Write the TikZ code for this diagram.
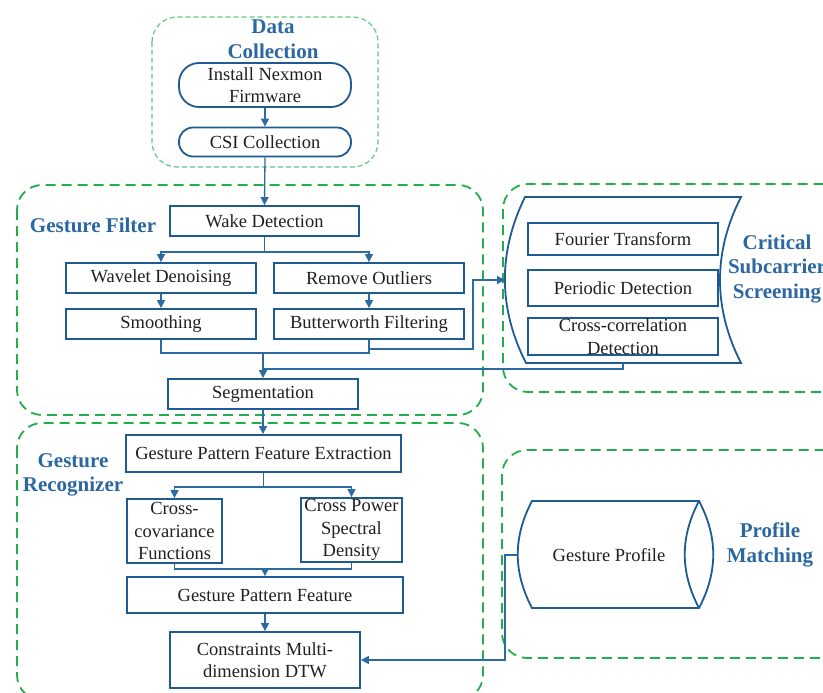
\documentclass[tikz,border=0pt]{standalone}
\usepackage{fontspec}
\setmainfont{Liberation Serif}
\usetikzlibrary{arrows.meta}
\definecolor{boxblue}{HTML}{1F5B93}
\definecolor{linkblue}{HTML}{2C6AA2}
\definecolor{titleblue}{HTML}{2B67A0}
\definecolor{grpgreen}{HTML}{22AE4C}
\definecolor{lightgreen}{HTML}{5CCB7E}
\definecolor{txt}{HTML}{231F20}
\tikzset{
  proc/.style={draw=boxblue, line width=1.8pt, fill=white, text=txt,
    font=\fontsize{18.5}{22.5}\selectfont, align=center, inner sep=0pt},
  grpbox/.style={draw=grpgreen, line width=1.8pt, dash pattern=on 10pt off 6pt,
    rounded corners=25pt},
  grpthin/.style={draw=lightgreen, line width=1.2pt, dash pattern=on 5pt off 3pt,
    rounded corners=25pt},
  grptitle/.style={text=titleblue, font=\fontsize{21}{24.5}\selectfont\bfseries,
    align=center, inner sep=0pt},
  link/.style={draw=linkblue, line width=1.3pt},
  conn/.style={link, -{Triangle[length=8pt,width=8pt]}},
  shapeline/.style={draw=boxblue, line width=1.8pt}
}
\begin{document}
\begin{tikzpicture}[x=1pt,y=-1pt]
\useasboundingbox (0,0) rectangle (823,693);
\clip (0,0) rectangle (823,693);

% group frames
\draw[grpthin] (152,17) rectangle (378,167);
\draw[grpbox] (17,185) rectangle (483,415);
\draw[grpbox] (17,423) rectangle (483,700);
\draw[grpbox] (503,184) rectangle (860,392);
\draw[grpbox] (502,450) rectangle (860,658);

% group titles
\node[grptitle] (tdata) at (273,39) {Data\\Collection};
\node[grptitle] (tfilter) at (93,225) {Gesture Filter};
\node[grptitle] (trecog) at (73,475) {Gesture\\Recognizer};
\node[grptitle] (tcrit) at (777,269) {Critical\\Subcarrier\\Screening};
\node[grptitle] (tprof) at (770,545) {Profile\\Matching};

% data collection
\node[proc, rounded corners=20pt, minimum width=172, minimum height=44] (nexmon) at (265,85) {Install Nexmon\\Firmware};
\node[proc, rounded corners=14pt, minimum width=172, minimum height=29] (csi) at (265,142) {CSI Collection};

% gesture filter
\node[proc, minimum width=189, minimum height=30] (wake) at (264.5,221) {Wake Detection};
\node[proc, minimum width=190, minimum height=30] (wavelet) at (161,278) {Wavelet Denoising};
\node[proc, minimum width=190, minimum height=30] (outlier) at (369,278) {Remove Outliers};
\node[proc, minimum width=190, minimum height=30] (smooth) at (161,324) {Smoothing};
\node[proc, minimum width=190, minimum height=30] (butter) at (369,324) {Butterworth Filtering};
\node[proc, minimum width=190, minimum height=30] (seg) at (263,394) {Segmentation};

% subcarrier screening store
\draw[shapeline, fill=white] (525,197) -- (741,197)
  .. controls (713,252) and (713,308) .. (741,363) -- (526,363)
  .. controls (498,308) and (498,252) .. (525,197) -- cycle;
\coordinate (storein) at (505,280);
\coordinate (storeout) at (623,363);
\node[proc, minimum width=190, minimum height=32] (fourier) at (623,239) {Fourier Transform};
\node[proc, minimum width=190, minimum height=36] (periodic) at (623,288) {Periodic Detection};
\node[proc, minimum width=190, minimum height=37] (xcorr) at (623,336.5) {Cross-correlation\\Detection};

% gesture recognizer
\node[proc, minimum width=275, minimum height=37] (gpfe) at (263.5,453.5) {Gesture Pattern Feature Extraction};
\node[proc, minimum width=95, minimum height=64] (ccov) at (174.5,531) {Cross-\\covariance\\Functions};
\node[proc, minimum width=101, minimum height=64] (cpsd) at (351.5,530) {Cross Power\\Spectral\\Density};
\node[proc, minimum width=276, minimum height=36] (gpf) at (265,595) {Gesture Pattern Feature};
\node[proc, minimum width=190, minimum height=56] (dtw) at (265,660) {Constraints Multi-\\dimension DTW};

% gesture profile store
\draw[shapeline, fill=white] (532,501) -- (699,501)
  .. controls (718,537) and (718,572) .. (699,608) -- (532,608)
  .. controls (513,572) and (513,537) .. (532,501) -- cycle;
\draw[shapeline] (699,501) .. controls (680,537) and (680,572) .. (699,608);
\node[text=txt, font=\fontsize{18.5}{22.5}\selectfont, inner sep=0pt] (profile) at (609,555) {Gesture Profile};
\coordinate (profout) at (518,555);

% connectors
\draw[conn] (nexmon.south) -- (csi.north);
\draw[conn] (csi.south) -- (wake.north);
\draw[conn] (wake.south) -- ++(0,15) -| (wavelet.north);
\draw[conn] (wake.south) -- ++(0,15) -| (outlier.north);
\draw[conn] (wavelet.south) -- (smooth.north);
\draw[conn] (outlier.south) -- (butter.south |- outlier.south) -- (butter.north);
\coordinate (merge1) at (263,353);
\draw[link] (smooth.south) -- (smooth.south |- merge1) -| (butter.south);
\draw[conn] (merge1) -- (seg.north);
\coordinate (cturn) at (473,280);
\draw[conn] (butter.south) -- ++(0,9) -| (cturn) -- (storein);
\coordinate (join2) at (263,369);
\draw[link] (storeout) |- (join2);
\draw[conn] (seg.south) -- (gpfe.north -| seg.south);
\draw[conn] (gpfe.south) -- ++(0,14) -| (ccov.north);
\draw[conn] (gpfe.south) -- ++(0,14) -| (cpsd.north);
\coordinate (merge2) at (265,569);
\draw[link] (ccov.south) -- (ccov.south |- merge2) -| (cpsd.south);
\draw[conn] (merge2) -- (gpf.north);
\draw[conn] (gpf.south) -- (dtw.north);
\draw[conn] (profout) -- ++(-13,0) |- (dtw.east);
\end{tikzpicture}
\end{document}
